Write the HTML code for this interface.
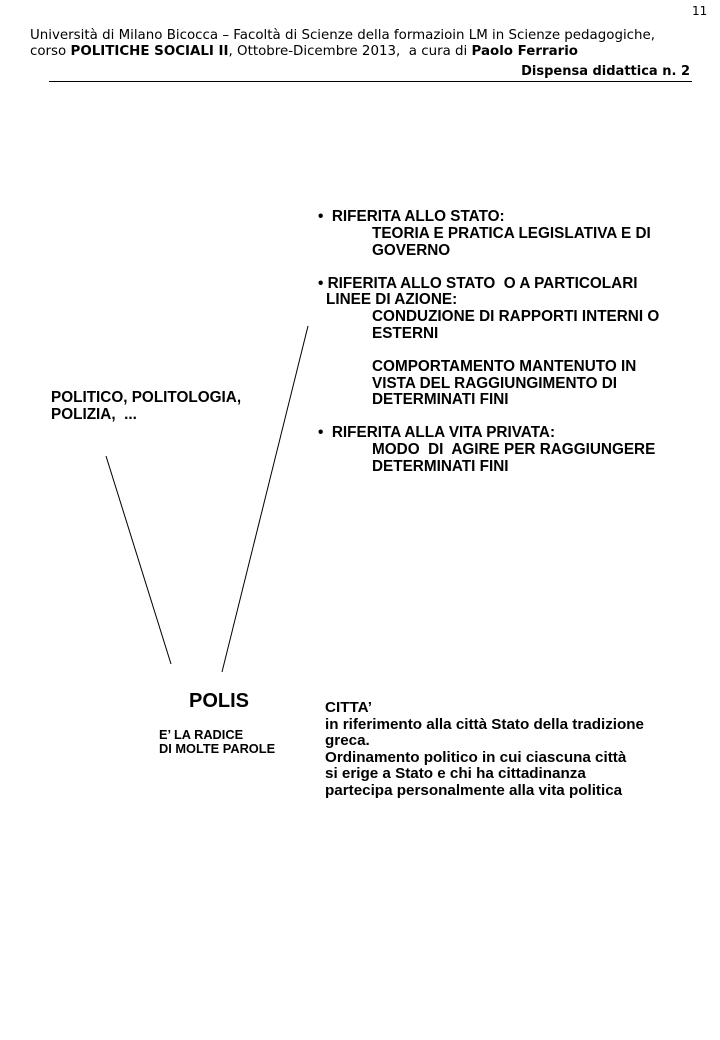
<!DOCTYPE html>
<html><head><meta charset="utf-8"><style>
body{margin:0;width:720px;height:1040px;background:#fff;position:relative;overflow:hidden}
.t{position:absolute;white-space:nowrap;color:#000}
.h{font-family:"DejaVu Sans",sans-serif;font-size:13.4px;line-height:16px}
.a{font-family:"Liberation Sans",sans-serif;font-weight:bold;font-size:15.3px;line-height:16.6px}
</style></head><body>
<div class="t h" style="left:692px;top:3px;font-size:12px">11</div>
<div class="t h" style="left:30px;top:28px">Università di Milano Bicocca – Facoltà di Scienze della formazioin LM in Scienze pedagogiche,<br>corso <b>POLITICHE SOCIALI II</b>, Ottobre-Dicembre 2013,&nbsp; a cura di <b>Paolo Ferrario</b></div>
<div class="t h" style="right:30px;top:64px;font-weight:bold;font-size:13px">Dispensa didattica n. 2</div>
<div style="position:absolute;left:49px;top:81px;width:643px;height:1px;background:#000"></div>

<div class="t a" style="left:318px;top:209px">•&nbsp;&nbsp;RIFERITA ALLO STATO:</div>
<div class="t a" style="left:372px;top:226px">TEORIA E PRATICA LEGISLATIVA E DI<br>GOVERNO</div>
<div class="t a" style="left:318px;top:276px">•&nbsp;RIFERITA ALLO STATO&nbsp; O A PARTICOLARI</div>
<div class="t a" style="left:326px;top:292px">LINEE DI AZIONE:</div>
<div class="t a" style="left:372px;top:309px">CONDUZIONE DI RAPPORTI INTERNI O<br>ESTERNI</div>
<div class="t a" style="left:372px;top:359px">COMPORTAMENTO MANTENUTO IN<br>VISTA DEL RAGGIUNGIMENTO DI<br>DETERMINATI FINI</div>
<div class="t a" style="left:318px;top:425px">•&nbsp;&nbsp;RIFERITA ALLA VITA PRIVATA:</div>
<div class="t a" style="left:372px;top:442px">MODO&nbsp; DI&nbsp; AGIRE PER RAGGIUNGERE<br>DETERMINATI FINI</div>

<div class="t a" style="left:51px;top:390px">POLITICO, POLITOLOGIA,<br>POLIZIA,&nbsp; ...</div>

<svg style="position:absolute;left:0;top:0" width="720" height="1040">
<line x1="106" y1="456" x2="171" y2="664" stroke="#000" stroke-width="1"/>
<line x1="308" y1="326" x2="222" y2="672" stroke="#000" stroke-width="1"/>
</svg>

<div class="t" style="left:189px;top:690px;font-family:'Liberation Sans',sans-serif;font-weight:bold;font-size:20px">POLIS</div>
<div class="t" style="left:159px;top:728px;font-family:'Liberation Sans',sans-serif;font-weight:bold;font-size:12.8px;line-height:14px">E’ LA RADICE<br>DI MOLTE PAROLE</div>
<div class="t a" style="left:325px;top:700px;font-size:15.2px">CITTA’<br>in riferimento alla città Stato della tradizione<br>greca.<br>Ordinamento politico in cui ciascuna città<br>si erige a Stato e chi ha cittadinanza<br>partecipa personalmente alla vita politica</div>
</body></html>
